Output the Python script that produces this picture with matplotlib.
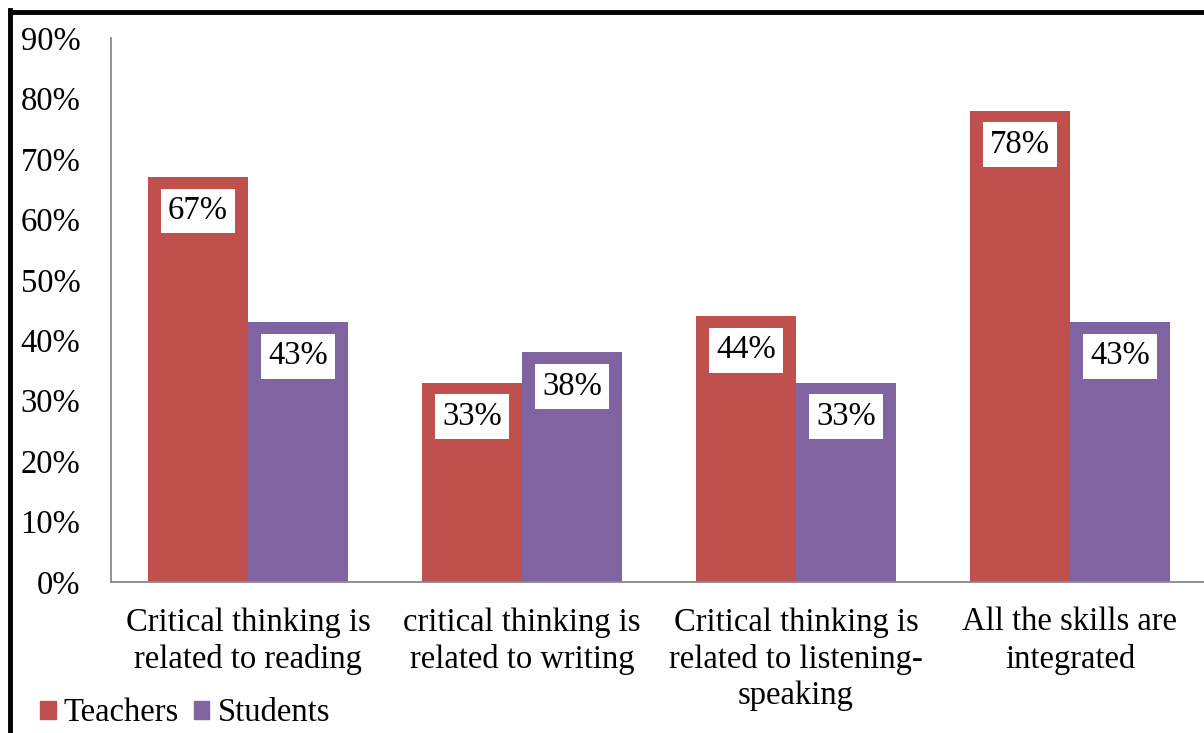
import matplotlib.pyplot as plt
from matplotlib.lines import Line2D
from matplotlib.patches import Patch
import numpy as np

plt.rcParams['font.family'] = ['Liberation Serif', 'DejaVu Serif']

categorias = ["Critical thinking is\nrelated to reading",
              "critical thinking is\nrelated to writing",
              "Critical thinking is\nrelated to listening-\nspeaking",
              "All the skills are\nintegrated"]
teachers = [67, 33, 44, 78]
students = [43, 38, 33, 43]
series = ["Teachers", "Students"]
cores = ["#C0504D", "#8064A2"]

W, H = 1204, 733
fig = plt.figure(figsize=(W / 100, H / 100), dpi=100)
ax = fig.add_axes([111 / W, 151 / H, 1093 / W, 544 / H])

x = np.arange(len(categorias))
largura = 0.365
fs = 23.5

barras_t = ax.bar(x - largura / 2, teachers, largura, color=cores[0])
barras_s = ax.bar(x + largura / 2, students, largura, color=cores[1])

# rotulos de valor dentro das barras, em caixa branca
for barras, vals in [(barras_t, teachers), (barras_s, students)]:
    for b, v in zip(barras, vals):
        ax.annotate(f"{v}%", (b.get_x() + b.get_width() / 2, v),
                    xytext=(0, -24.5), textcoords="offset points",
                    ha="center", va="center", fontsize=fs,
                    bbox=dict(boxstyle="square,pad=0.22", fc="white", ec="none"))

ax.set_ylim(0, 90)
ax.set_xlim(-0.5, -0.5 + 1093 / 274)
ax.set_yticks(range(0, 91, 10))
ax.set_yticklabels([f"{v}%" for v in range(0, 91, 10)], fontsize=fs)
ax.set_xticks(x)
ax.set_xticklabels(categorias, fontsize=fs, linespacing=1.26)
ax.tick_params(axis="y", length=0, pad=22)
ax.tick_params(axis="x", length=0, pad=18)

for s in ["top", "right"]:
    ax.spines[s].set_visible(False)
for s in ["left", "bottom"]:
    ax.spines[s].set_color("#888888")
    ax.spines[s].set_linewidth(1.3)

# legenda
handles = [Patch(color=c) for c in cores]
fig.legend(handles, series, loc="center left", bbox_to_anchor=(40 / W, 1 - 713 / H),
           ncol=2, frameon=False, fontsize=fs, handlelength=0.48, handleheight=0.48,
           handletextpad=0.25, columnspacing=0.45, borderaxespad=0, borderpad=0)

# moldura
fig.add_artist(Line2D([10 / W, 10 / W], [0, 1 - 10 / H], color="black", lw=3.5,
                      transform=fig.transFigure))
fig.add_artist(Line2D([8 / W, 1], [1 - 11.5 / H, 1 - 11.5 / H], color="black", lw=3.5,
                      solid_capstyle="butt", transform=fig.transFigure))

fig.savefig("out.png", dpi=100)
